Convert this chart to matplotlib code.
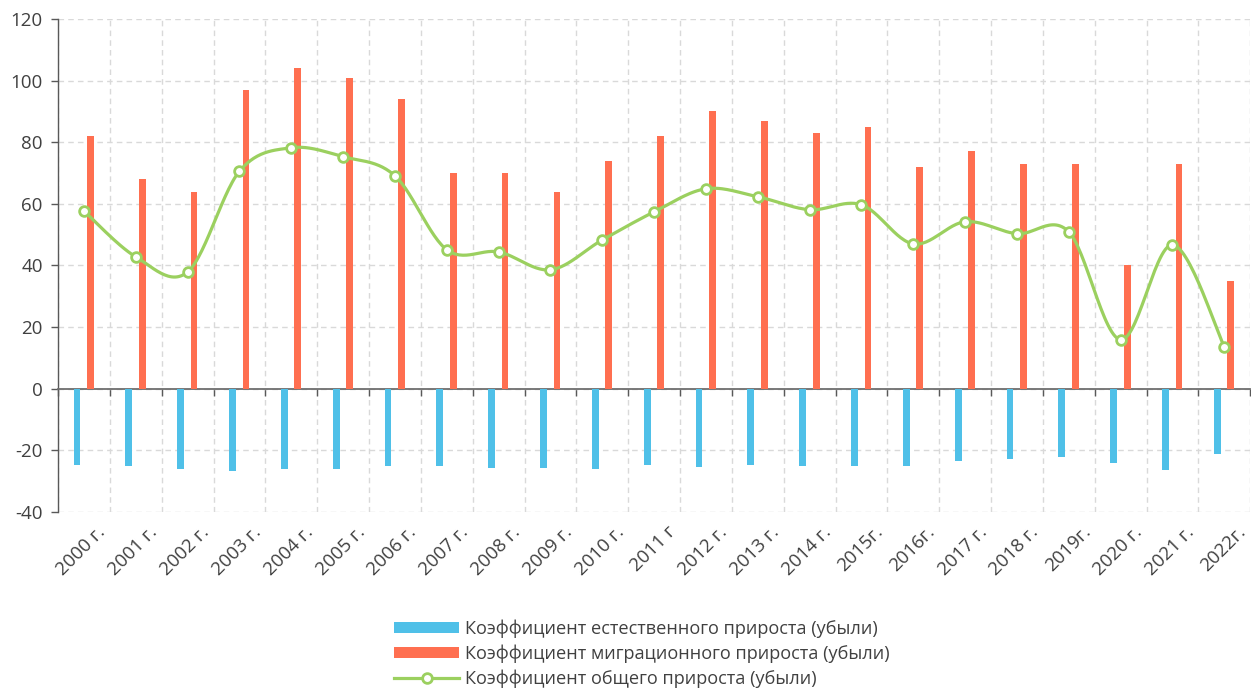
import matplotlib.pyplot as plt
import numpy as np
from matplotlib.patches import Patch
from matplotlib.lines import Line2D

# Данные
years = ['2000 г.', '2001 г.', '2002 г.', '2003 г.', '2004 г.', '2005 г.', '2006 г.',
         '2007 г.', '2008 г.', '2009 г.', '2010 г.', '2011 г', '2012 г.', '2013 г.',
         '2014 г.', '2015г.', '2016г.', '2017 г.', '2018 г.', '2019г.', '2020 г.',
         '2021 г.', '2022г.']
natural = [-24.6, -25.1, -26.1, -26.6, -26.2, -25.9, -25.1, -25.1, -25.7, -25.6, -26.0, -24.7,
           -25.3, -24.9, -25.0, -25.2, -25.1, -23.3, -22.8, -22.0, -24.2, -26.4, -21.3]
migration = [82, 68, 64, 97, 104, 101, 94, 70, 70, 64, 74, 82,
             90, 87, 83, 85, 72, 77, 73, 73, 40, 73, 35]
total = [57.7, 42.8, 37.9, 70.6, 78.2, 75.3, 69.1, 45.1, 44.4, 38.6, 48.3, 57.4,
         64.9, 62.3, 58.1, 59.7, 47.0, 54.2, 50.3, 50.9, 15.9, 46.7, 13.6]

legend_labels = ['Коэффициент естественного прироста (убыли)',
                 'Коэффициент миграционного прироста (убыли)',
                 'Коэффициент общего прироста (убыли)']

BLUE = '#4FC0E8'
RED = '#FF6F50'
GREEN = '#9BD05F'
TEXT = '#404040'

plt.rcParams['font.family'] = ['Open Sans', 'DejaVu Sans']
plt.rcParams['axes.unicode_minus'] = False


def smooth_curve(x, y, n=30):
    """Сглаженная линия как в Excel (кривые Безье через соседние точки)"""
    x = np.asarray(x, float)
    y = np.asarray(y, float)
    px = np.concatenate([[x[0]], x, [x[-1]]])
    py = np.concatenate([[y[0]], y, [y[-1]]])
    xs, ys = [], []
    t = np.linspace(0, 1, n)
    for i in range(1, len(px) - 2):
        p0 = np.array([px[i], py[i]])
        p3 = np.array([px[i + 1], py[i + 1]])
        c1 = p0 + (np.array([px[i + 1], py[i + 1]]) - np.array([px[i - 1], py[i - 1]])) / 6
        c2 = p3 - (np.array([px[i + 2], py[i + 2]]) - np.array([px[i], py[i]])) / 6
        b = ((1 - t) ** 3)[:, None] * p0 + (3 * (1 - t) ** 2 * t)[:, None] * c1 \
            + (3 * (1 - t) * t ** 2)[:, None] * c2 + (t ** 3)[:, None] * p3
        xs.extend(b[:, 0])
        ys.extend(b[:, 1])
    return np.array(xs), np.array(ys)


fig = plt.figure(figsize=(12.51, 6.9), dpi=100)
ax = fig.add_axes([0.0464, 0.258, 0.953, 0.7145])

x = np.arange(len(years))
w = 0.13
ax.bar(x - 0.135, natural, width=w, color=BLUE, zorder=3)
ax.bar(x + 0.125, migration, width=w, color=RED, zorder=3)

sx, sy = smooth_curve(x, total)
ax.plot(sx, sy, color=GREEN, linewidth=2.3, zorder=4)
ax.plot(x, total, linestyle='none', marker='o', markersize=7, markerfacecolor='white',
        markeredgecolor=GREEN, markeredgewidth=2, zorder=5)

ax.set_xlim(-0.5, len(years) - 0.5)
ax.set_ylim(-40, 120)
ax.set_yticks(np.arange(-40, 121, 20))
ax.tick_params(axis='y', labelsize=13.5, labelcolor=TEXT, color='#595959',
               length=5, width=1, pad=6)

# Ось X по нулю, деления на границах категорий
ax.spines['bottom'].set_position(('data', 0))
ax.spines['bottom'].set_color('#6E6E6E')
ax.spines['bottom'].set_linewidth(1.3)
ax.spines['left'].set_color('#595959')
ax.spines['left'].set_linewidth(1.0)
ax.spines['top'].set_visible(False)
ax.spines['right'].set_visible(False)
ax.set_xticks(np.arange(-0.5, len(years), 1.0))
ax.set_xticklabels([])
ax.tick_params(axis='x', length=5, width=1, color='#595959')

ax.grid(True, linestyle=(0, (4, 3)), color='#D9D9D9', linewidth=1, zorder=0)
ax.set_axisbelow(True)

for i, lab in enumerate(years):
    ax.text(i + 0.24, -43.5, lab, rotation=45, rotation_mode='anchor', ha='right', va='top',
            fontsize=13.5, color=TEXT)

handles = [Patch(facecolor=BLUE), Patch(facecolor=RED),
           Line2D([0], [0], color=GREEN, linewidth=2.3, marker='o', markersize=7,
                  markerfacecolor='white', markeredgecolor=GREEN, markeredgewidth=2)]
leg = fig.legend(handles, legend_labels, loc='upper center', bbox_to_anchor=(0.513, 0.115),
                 frameon=False, fontsize=13.1, handlelength=3.6, handleheight=0.55,
                 labelspacing=0.36, handletextpad=0.3, borderpad=0)
for t in leg.get_texts():
    t.set_color(TEXT)

fig.savefig('out.png', dpi=100)
